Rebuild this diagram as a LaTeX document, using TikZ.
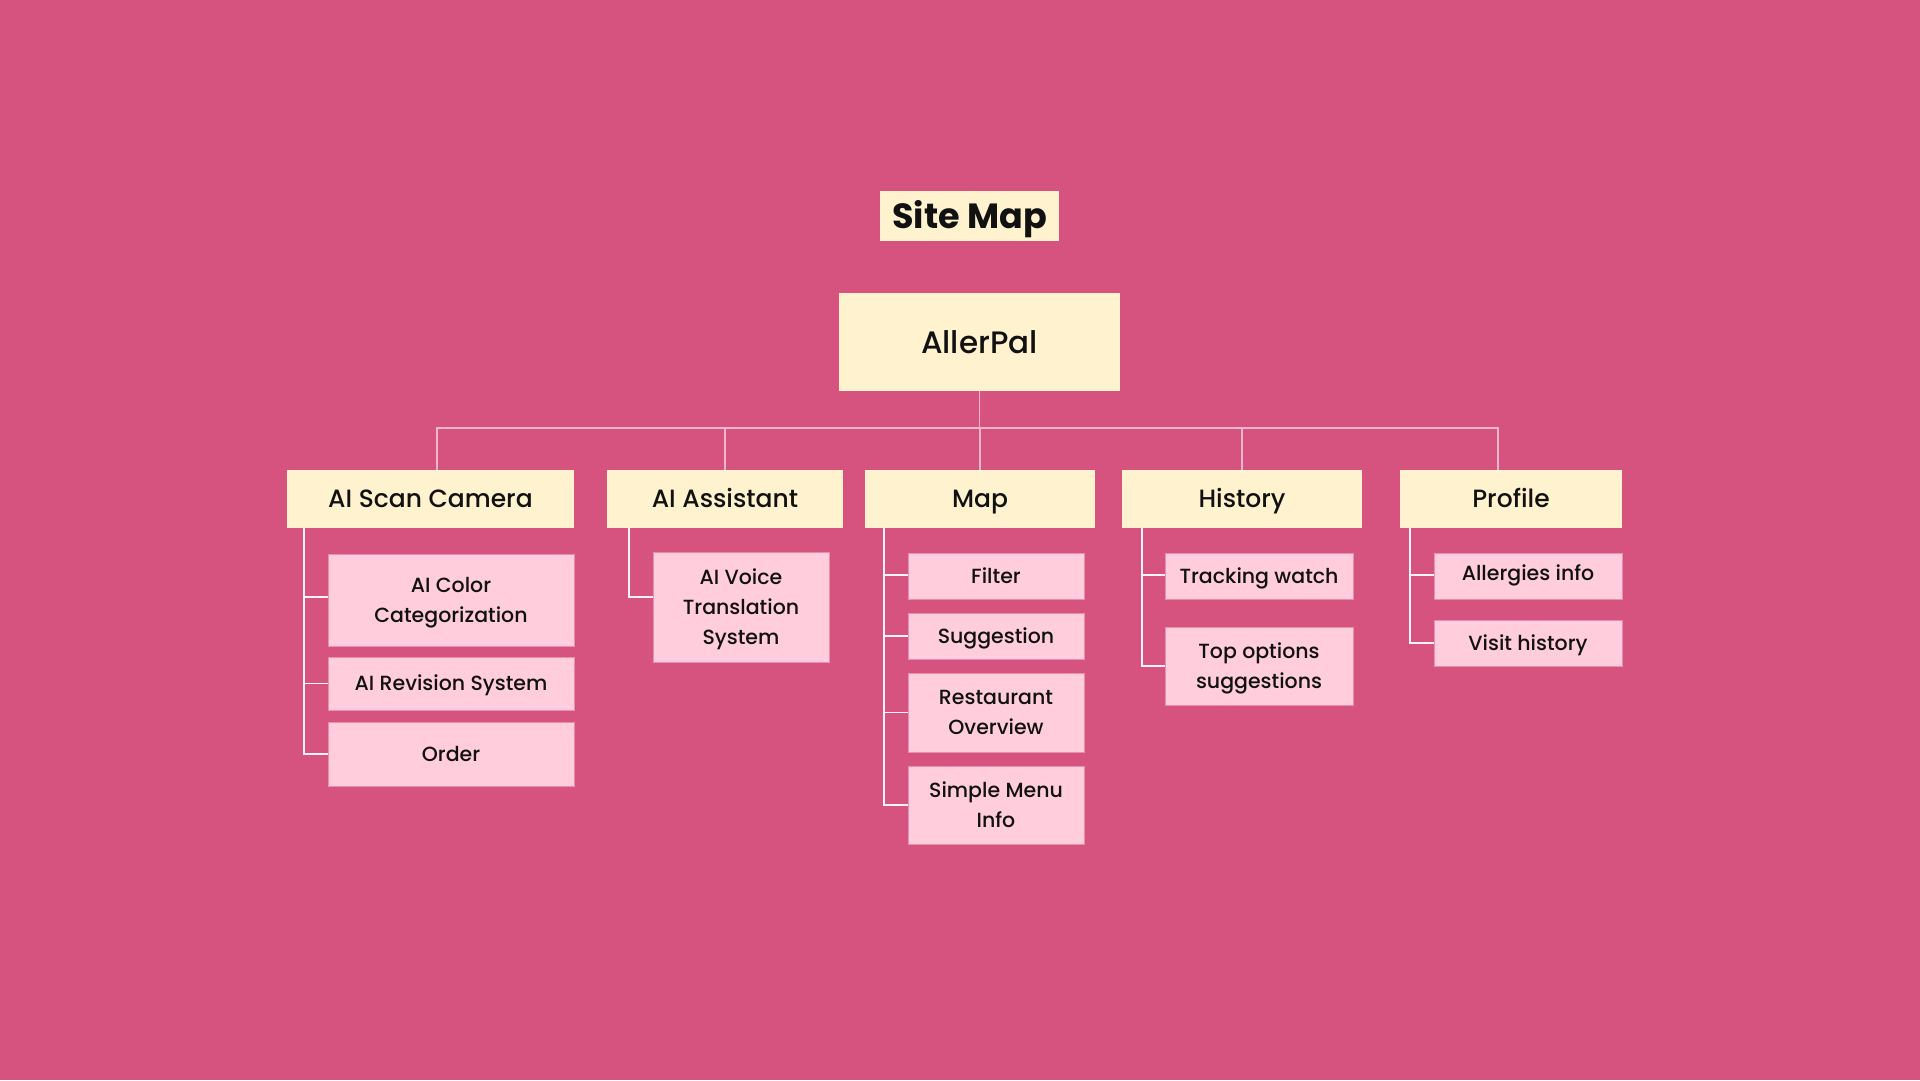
\documentclass[tikz,border=0pt]{standalone}
\usepackage{fontspec}
\setmainfont{Poppins}[UprightFont=* Medium, BoldFont=* Bold]
\definecolor{bg}{HTML}{D6527F}
\definecolor{cream}{HTML}{FFF2CF}
\definecolor{kid}{HTML}{FFCDDB}
\definecolor{kidborder}{HTML}{E98FAD}
\definecolor{busline}{HTML}{F2B5CA}
\definecolor{trunkline}{HTML}{FFF3F6}
\definecolor{ink}{HTML}{111111}
\tikzset{
  base/.style={rectangle, inner sep=0pt, align=center, text=ink},
  titlebox/.style={base, fill=cream, text height=25pt, text depth=0pt, font=\fontsize{35}{40}\selectfont\bfseries},
  rootbox/.style={base, fill=cream, text height=22pt, text depth=0pt, font=\fontsize{31}{36}\selectfont},
  lvlbox/.style={base, fill=cream, minimum height=58pt, text height=17.5pt, text depth=0pt, font=\fontsize{25}{30}\selectfont},
  kidbox/.style={base, fill=kid, draw=kidborder, line width=0.8pt, text height=14.5pt, text depth=0pt, font=\fontsize{20.5}{30}\selectfont},
  two/.style={text height=44.5pt},
  three/.style={text height=74.5pt},
  bus/.style={draw=busline, line width=1.5pt},
  trunk/.style={draw=trunkline, line width=1.5pt},
}
\begin{document}
\begin{tikzpicture}[x=1pt,y=-1pt]
\fill[bg] (0,0) rectangle (1920,1080);
\useasboundingbox (0,0) rectangle (1920,1080);

% title and root
\node[titlebox, minimum width=179pt, minimum height=50pt] (title) at (969.5,216) {Site Map};
\node[rootbox, minimum width=281pt, minimum height=98pt] (root) at (979.5,342) {AllerPal};

% level 1
\node[lvlbox, minimum width=287pt] (cam) at (430.5,499) {AI Scan Camera};
\node[lvlbox, minimum width=236pt] (asst) at (725,499) {AI Assistant};
\node[lvlbox, minimum width=230pt] (map) at (980,499) {Map};
\node[lvlbox, minimum width=240pt] (hist) at (1242,499) {History};
\node[lvlbox, minimum width=222pt] (prof) at (1511,499) {Profile};

% bus
\coordinate (busL) at (437,428);
\coordinate (busR) at (1498,428);
\draw[bus] (busL |- cam.north) -- (busL) -- (busR) -- (busR |- prof.north);
\draw[bus] (root.south) -- (root.south |- busL);
\draw[bus] (asst.north) -- (asst.north |- busL);
\draw[bus] (map.north) -- (map.north |- busL);
\draw[bus] (hist.north) -- (hist.north |- busL);

% AI Scan Camera children
\node[kidbox, two, minimum width=246pt, minimum height=92pt] (color) at (451,600) {AI Color\\Categorization};
\node[kidbox, minimum width=246pt, minimum height=53pt] (rev) at (451,683.5) {AI Revision System};
\node[kidbox, minimum width=246pt, minimum height=64pt] (order) at (451,754) {Order};
\coordinate (camt) at (304,528);
\draw[trunk] (camt) |- ([yshift=3pt]color.west);
\draw[trunk] (camt) |- (rev.west);
\draw[trunk] (camt) |- (order.west);

% AI Assistant children
\node[kidbox, three, minimum width=176pt, minimum height=110pt] (voice) at (741,607) {AI Voice\\Translation\\System};
\coordinate (asstt) at (629,528);
\draw[trunk] (asstt) |- ([yshift=10pt]voice.west);

% Map children
\node[kidbox, minimum width=176pt, minimum height=46pt] (filter) at (996,576) {Filter};
\node[kidbox, minimum width=176pt, minimum height=46pt] (sugg) at (996,636) {Suggestion};
\node[kidbox, two, minimum width=176pt, minimum height=79pt] (rest) at (996,712.5) {Restaurant\\Overview};
\node[kidbox, two, minimum width=176pt, minimum height=78pt] (menu) at (996,805) {Simple Menu\\Info};
\coordinate (mapt) at (884,528);
\draw[trunk] (mapt) |- ([yshift=1pt]filter.west);
\draw[trunk] (mapt) |- (sugg.west);
\draw[trunk] (mapt) |- (rest.west);
\draw[trunk] (mapt) |- (menu.west);

% History children
\node[kidbox, minimum width=188pt, minimum height=46pt] (track) at (1259,576) {Tracking watch};
\node[kidbox, two, minimum width=188pt, minimum height=78pt] (top) at (1259,666) {Top options\\suggestions};
\coordinate (histt) at (1142,528);
\draw[trunk] (histt) |- ([yshift=1pt]track.west);
\draw[trunk] (histt) |- (top.west);

% Profile children
\node[kidbox, minimum width=188pt, minimum height=46pt] (allerg) at (1528,576) {\raisebox{3pt}{Allergies info}};
\node[kidbox, minimum width=188pt, minimum height=46pt] (visit) at (1528,643) {Visit history};
\coordinate (proft) at (1410,528);
\draw[trunk] (proft) |- ([yshift=1pt]allerg.west);
\draw[trunk] (proft) |- (visit.west);
\end{tikzpicture}
\end{document}
